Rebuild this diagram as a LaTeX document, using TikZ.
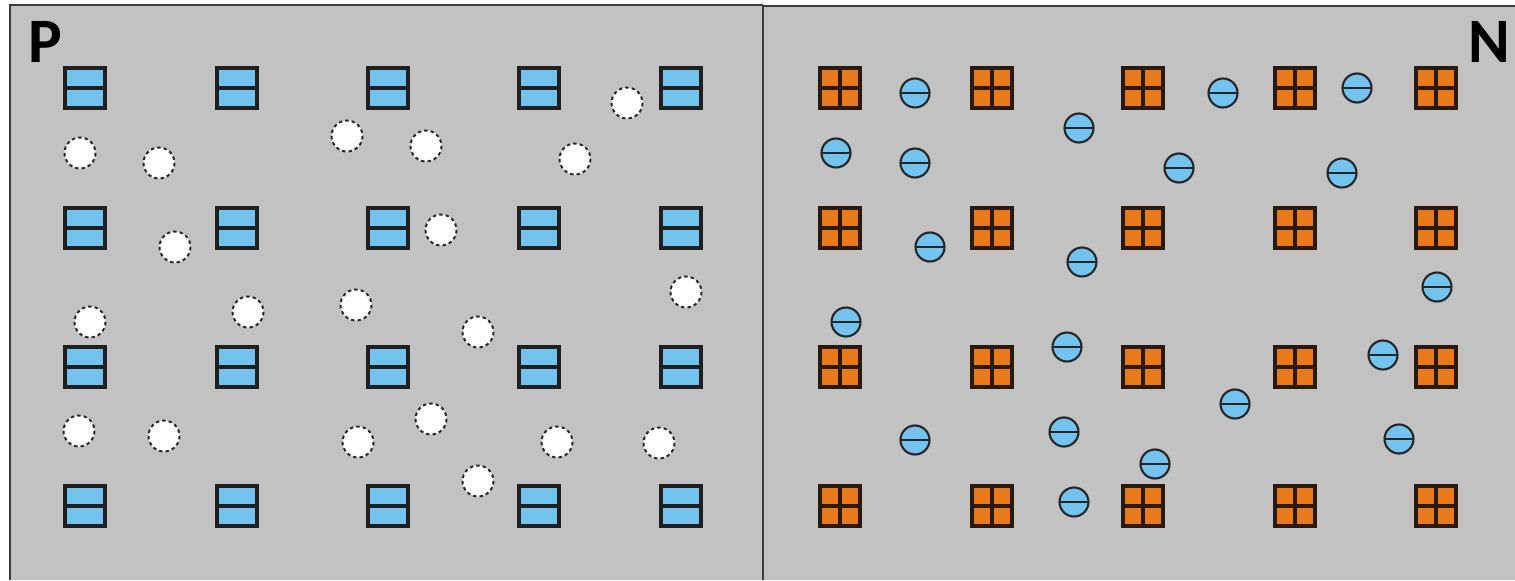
\documentclass[tikz,border=0pt]{standalone}
\usepackage{fontspec}
\usepackage{xcolor}
\newfontfamily\labelfont{Carlito}
\definecolor{panelgray}{HTML}{C2C2C2}
\definecolor{framegray}{HTML}{3C3C3C}
\definecolor{atomblue}{HTML}{74C3EE}
\definecolor{atomorange}{HTML}{E87A1A}
\definecolor{donoredge}{HTML}{2A1A0C}
\tikzset{
  frame/.style={draw=framegray,line width=1.1pt},
  acceptor/.style={draw=black!88,fill=atomblue,line width=2.8pt},
  acceptorbar/.style={draw=black!88,line width=2.4pt},
  donor/.style={draw=donoredge,fill=atomorange,line width=2.8pt},
  donorbar/.style={draw=donoredge,line width=2.6pt},
  electron/.style={draw=black!85,fill=atomblue,line width=1.5pt},
  hole/.style={draw=black!85,fill=white,line width=1.4pt,dash pattern=on 2.4pt off 2.2pt},
  typelabel/.style={font=\labelfont\bfseries\fontsize{45}{45}\selectfont,inner sep=0pt}
}
\begin{document}
\begin{tikzpicture}[x=0.025cm,y=-0.025cm]
\useasboundingbox(0,0)rectangle(1515,580);
\fill[panelgray](10,5)rectangle(763,580);
\fill[panelgray](763,6)rectangle(1515,580);
\draw[frame](10,580)--(10,5)--(763,5);
\draw[frame](763,580)--(763,6)--(1515,6);
\node[typelabel](P) at (45,42){P};
\node[typelabel](N) at (1489,42){N};
\foreach \x in {85,237,388,539,681}
\foreach \y in {88,228,367,506}{
\draw[acceptor](\x-20,\y-20)rectangle(\x+20,\y+20);
\draw[acceptorbar](\x-19,\y)--(\x+19,\y);
}
\foreach \x in {840,992,1143,1295,1436}
\foreach \y in {88,228,367,506}{
\draw[donor](\x-20,\y-20)rectangle(\x+20,\y+20);
\draw[donorbar](\x-19,\y)--(\x+19,\y)
(\x,\y-19)--(\x,\y+19);
}
\foreach \x/\y in {627/103,80/153,159/163,347/136,426/146,575/159,175/247,441/230,
90/322,248/312,356/305,478/332,686/292,79/431,164/436,358/442,431/419,557/442,659/443,478/481}
\draw[hole](\x,\y)circle(15.5);
\foreach \x/\y in {915/93,1223/93,1357/88,1079/128,836/153,915/163,1179/168,1342/173,
930/247,1082/262,1437/287,846/322,1067/347,1383/355,1235/404,915/440,1064/432,1399/439,
1155/464,1074/502}{
\draw[electron](\x,\y)circle(14.5);
\draw[electron](\x-14.5,\y)--(\x+14.5,\y);
}
\end{tikzpicture}
\end{document}
